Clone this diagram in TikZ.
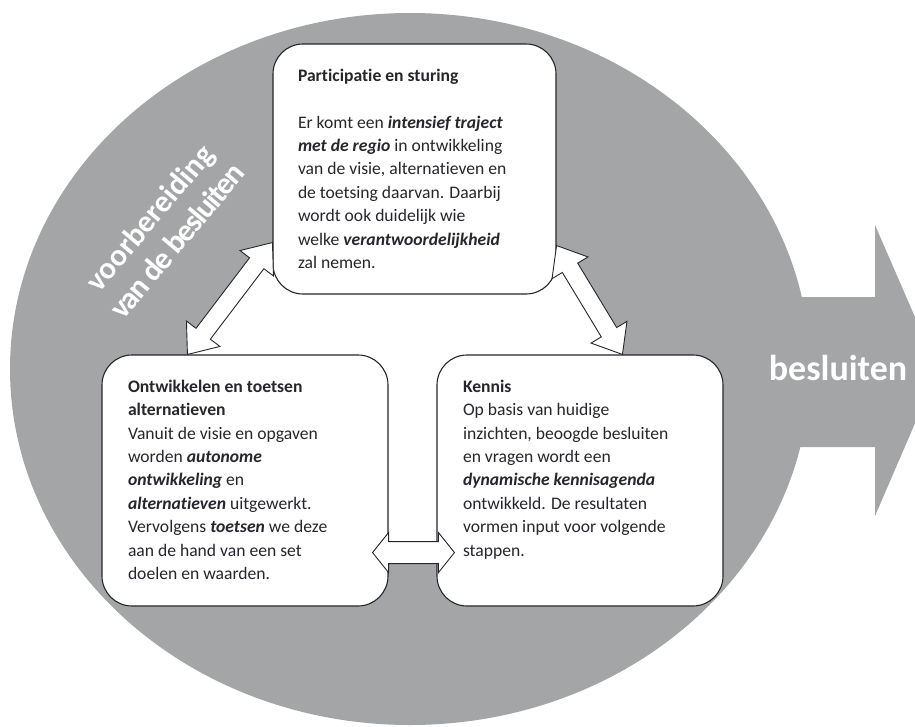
\documentclass[tikz,border=0pt]{standalone}
\usepackage{fontspec}
\setmainfont{Carlito}[Ligatures={NoCommon}]
\usetikzlibrary{calc,backgrounds}
\definecolor{discgrey}{RGB}{164,165,167}
\definecolor{inkgrey}{RGB}{38,38,44}
\newcommand\emphbi[1]{\textbf{\textit{#1}}}
\newcommand\boxtext[3]{\begin{minipage}[t][#1][t]{#2}\fontsize{17.6}{23.4}\selectfont\color{inkgrey}#3\end{minipage}}
\def\dblarrow[#1](#2)(#3)(#4:#5:#6){%
  \coordinate (qa) at ($(#2)!#4!(#3)$);
  \coordinate (qb) at ($(#3)!#4!(#2)$);
  \draw[#1] (#2) -- ($(qa)!#5!90:(#3)$) -- ($(qa)!#6!90:(#3)$) -- ($(qb)!#6!-90:(#2)$) -- ($(qb)!#5!-90:(#2)$)
    -- (#3) -- ($(qb)!#5!90:(#2)$) -- ($(qb)!#6!90:(#2)$) -- ($(qa)!#6!-90:(#3)$) -- ($(qa)!#5!-90:(#3)$) -- cycle;}

\begin{document}
\begin{tikzpicture}[x=1pt,y=-1pt,
    stepbox/.style={draw=inkgrey,line width=1.1pt,fill=white,rounded corners=30pt,inner sep=0pt,align=left},
    dblarr/.style={draw=inkgrey,line width=0.9pt,fill=white,line join=miter}]
			%%%%% START %%%%%
			\useasboundingbox (0,0) rectangle (915,726);
			\clip (0,0) rectangle (915,726);
			
			\node[stepbox, minimum width=283pt, minimum height=250pt] (part) at (414.5,169) {\boxtext{200pt}{233pt}{%
				\textbf{Participatie en sturing}\\[\baselineskip]
				Er komt een \emphbi{intensief traject}\\
				\emphbi{met de regio} in ontwikkeling\\
				van de visie, alternatieven en\\
				de toetsing daarvan. Daarbij\\
				wordt ook duidelijk wie\\
				welke \emphbi{verantwoordelijkheid}\\
				zal nemen.}};
			
			\node[stepbox, minimum width=286pt, minimum height=251pt] (ontw) at (245,480.5) {\boxtext{201pt}{234pt}{%
				\textbf{Ontwikkelen en toetsen}\\
				\textbf{alternatieven}\\
				Vanuit de visie en opgaven\\
				worden \emphbi{autonome}\\
				\emphbi{ontwikkeling} en\\
				\emphbi{alternatieven} uitgewerkt.\\
				Vervolgens \emphbi{toetsen} we deze\\
				aan de hand van een set\\
				doelen en waarden.}};
			
			\node[stepbox, minimum width=286pt, minimum height=251pt] (kennis) at (580,480.5) {\boxtext{201pt}{234pt}{%
				\textbf{Kennis}\\
				Op basis van huidige\\
				inzichten, beoogde besluiten\\
				en vragen wordt een\\
				\emphbi{dynamische kennisagenda}\\
				ontwikkeld. De resultaten\\
				vormen input voor volgende\\
				stappen.}};
			
			\coordinate (lt) at ($(part.south west)+(0,-52)$);
			\coordinate (lb) at ($(ontw.north west)+(86,0)$);
			\coordinate (rt) at ($(part.south east)+(0,-49)$);
			\coordinate (rb) at ($(kennis.north west)+(186,0)$);
			\coordinate (bl) at ($(ontw.south east)+(-16,-54)$);
			\coordinate (br) at ($(kennis.south west)+(18,-54)$);
			
			\begin{scope}[on background layer]
				\fill[discgrey] (410,369) ellipse [x radius=400, y radius=356];
				\fill[discgrey] (790,297) -- (875,297) -- (875,225) -- (938,370) -- (875,516) -- (875,447) -- (790,447) -- cycle;
				\fill[white] (lt) -- (lb) -- (200,400) -- (380,400) -- (380,548) -- (445,548) -- (445,400) -- (600,400) -- (rb) -- (rt) -- (540,230) -- (300,230) -- cycle;
			\end{scope}
			
			\dblarrow[dblarr](lt)(lb)(26pt:21pt:9pt)
			\dblarrow[dblarr](rt)(rb)(26pt:21pt:9pt)
			\dblarrow[dblarr](bl)(br)(16pt:20pt:11pt)
			
			\node[text=white, font=\bfseries\fontsize{36}{40}\selectfont] (besl) at (838,368) {besluiten};
			\node[text=white, rotate=50, align=center, font=\bfseries\fontsize{31}{36}\selectfont] (voorb) at (163,229)
				{voorbereiding\\{\addfontfeature{LetterSpace=-5}van de besluiten}};
			%%%%% END %%%%%
\end{tikzpicture}
\end{document}
